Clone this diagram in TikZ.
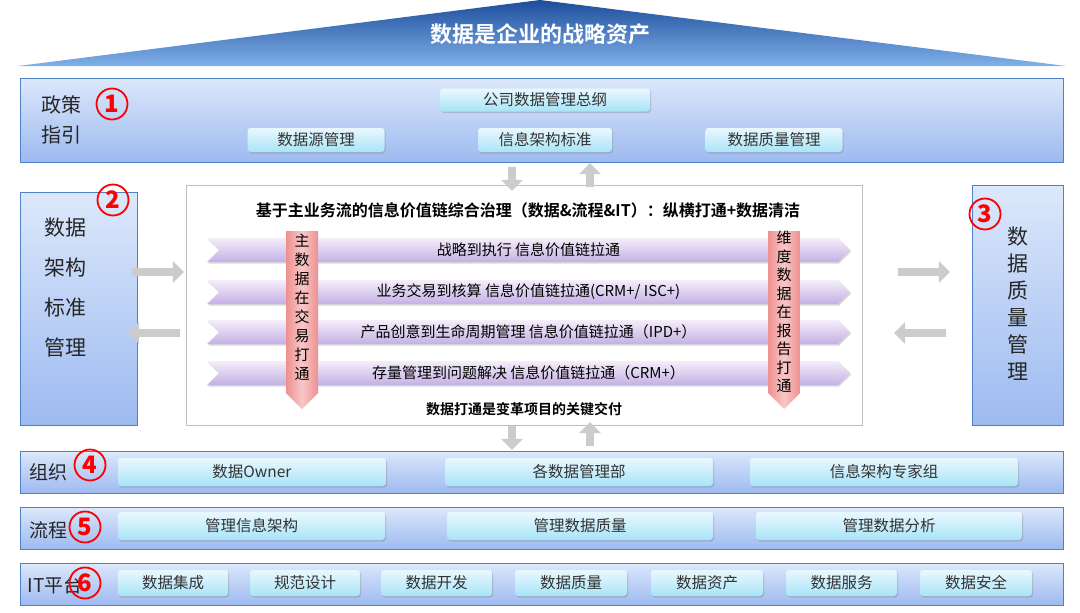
\documentclass[tikz,border=0pt]{standalone}
\usepackage{fontspec}
\setmainfont{Noto Sans CJK SC}
\newfontfamily\cjkb{Noto Sans CJK SC}[BoldFont={* Bold}]
\usetikzlibrary{shapes.arrows,shapes.symbols,shadows}
\definecolor{bandtop}{HTML}{DCE8FB}
\definecolor{bandbot}{HTML}{9DBAF0}
\definecolor{bandline}{HTML}{4F81C8}
\definecolor{btntop}{HTML}{EAF8FE}
\definecolor{btnbot}{HTML}{A8E4F8}
\definecolor{roof1}{HTML}{1E4E9C}
\definecolor{roof2}{HTML}{7FB0E8}
\definecolor{chev1}{HTML}{F4EEFA}
\definecolor{chev2}{HTML}{C4B0E4}
\definecolor{pink1}{HTML}{F8C8C8}
\definecolor{pink2}{HTML}{EE8F8F}
\tikzset{
 band/.style={draw=bandline,line width=0.8pt,top color=bandtop,bottom color=bandbot,minimum height=#1},
 btn/.style={rounded corners=3pt,top color=btntop,bottom color=btnbot,draw=none,drop shadow={opacity=0.35,shadow xshift=1pt,shadow yshift=-1.5pt},font=\fontsize{15.5}{15.5}\selectfont,text=black!80},
 lbl/.style={font=\fontsize{19}{22}\selectfont,text=black!85,align=center},
 num/.style={circle,draw=red,line width=1.8pt,minimum size=31pt,inner sep=0pt,text=red,font=\fontsize{24}{24}\selectfont\bfseries},
 garrow/.style={single arrow,fill=black!20,draw=none,minimum height=#1,minimum width=22pt,single arrow head extend=4pt,inner sep=2pt},
 chev/.style={signal,signal to=east,signal from=west,top color=chev1,bottom color=chev2,draw=none,minimum width=643pt,minimum height=24pt,inner sep=0pt,font=\fontsize{15}{15}\selectfont,drop shadow={opacity=0.3,shadow xshift=1pt,shadow yshift=-1.5pt}},
 vbar/.style={single arrow,shape border rotate=270,left color=pink2,right color=pink2,middle color=pink1,draw=none,minimum height=178pt,minimum width=32pt,single arrow head extend=0pt,single arrow tip angle=90,inner sep=0pt},
}
\begin{document}
\begin{tikzpicture}[x=1pt,y=-1pt]
\useasboundingbox (0,0) rectangle (1080,613);
% roof
\path[top color=roof1,bottom color=roof2,draw=none] (18,66) -- (540,0) -- (1066,66) -- cycle;
\node[text=white,font=\cjkb\bfseries\fontsize{22}{22}\selectfont] (roof) at (540,34) {数据是企业的战略资产};
% policy band
\node[band=84pt,minimum width=1043pt,inner sep=0pt] (pol) at (541.5,120) {};
\node[lbl,anchor=west,font=\fontsize{20}{30}\selectfont] (pollbl) at (38,120) {政策\\指引};
\node[num] (n1) at (112,104) {1};
\node[btn,minimum width=210pt,minimum height=23pt] (b1) at (545,100) {公司数据管理总纲};
\node[btn,minimum width=137pt,minimum height=24pt] (b2) at (316,140) {数据源管理};
\node[btn,minimum width=134pt,minimum height=24pt] (b3) at (545,140) {信息架构标准};
\node[btn,minimum width=137pt,minimum height=24pt] (b4) at (774,140) {数据质量管理};
% left/right boxes
\node[band=233pt,minimum width=117pt,inner sep=0pt] (lb) at (78.5,308.5) {};
\node[lbl,font=\fontsize{21}{40}\selectfont] (lbt) at (65,288) {数据\\架构\\标准\\管理};
\node[num] (n2) at (113,200) {2};
\node[band=240pt,minimum width=91pt,inner sep=0pt] (rb) at (1017.5,305) {};
\node[lbl,font=\fontsize{21}{27}\selectfont] (rbt) at (1018,304) {数\\据\\质\\量\\管\\理};
\node[num] (n3) at (985,214) {3};
% center box
\node[draw=black!25,fill=white,minimum width=676pt,minimum height=240pt,inner sep=0pt] (cb) at (524,305) {};
\node[font=\cjkb\bfseries\fontsize{16}{16}\selectfont] (ct) at (528,210) {基于主业务流的信息价值链综合治理（数据\&流程\&IT）：纵横打通+数据清洁};
\node[chev] (c1) at (528.5,250) {战略到执行 信息价值链拉通};
\node[chev] (c2) at (528.5,292) {业务交易到核算 信息价值链拉通(\textit{CRM+/ ISC+})};
\node[chev] (c3) at (528.5,332) {产品创意到生命周期管理 信息价值链拉通（\textit{IPD+}）};
\node[chev] (c4) at (528.5,373) {存量管理到问题解决 信息价值链拉通（\textit{CRM+}）};
\node[vbar] (v1) at (302,312) {};
\node[font=\fontsize{15}{19}\selectfont,align=center] (v1t) at (302,307) {主\\数\\据\\在\\交\\易\\打\\通};
\node[vbar] (v2) at (784,312) {};
\node[font=\fontsize{15}{18.5}\selectfont,align=center] (v2t) at (784,312) {维\\度\\数\\据\\在\\报\\告\\打\\通};
\node[font=\cjkb\bfseries\fontsize{14}{14}\selectfont] (cbt) at (524,409) {数据打通是变革项目的关键交付};
% gray arrows
\node[garrow=24pt,rotate=-90] (ga1) at (512,177) {};
\node[garrow=24pt,rotate=90] (ga2) at (590,177) {};
\node[garrow=24pt,rotate=-90] (ga3) at (512,436) {};
\node[garrow=24pt,rotate=90] (ga4) at (590,436) {};
\node[garrow=52pt] (ga5) at (156,272) {};
\node[garrow=52pt,rotate=180] (ga6) at (156,333) {};
\node[garrow=52pt] (ga7) at (922,272) {};
\node[garrow=52pt,rotate=180] (ga8) at (922,333) {};
% org band
\node[band=42pt,minimum width=1043pt,inner sep=0pt] (org) at (541.5,472) {};
\node[lbl,anchor=west] (orgl) at (26,472) {组织};
\node[num] (n4) at (90,465) {4};
\node[btn,minimum width=268pt,minimum height=28pt] (o1) at (252,472) {数据\textit{Owner}};
\node[btn,minimum width=268pt,minimum height=28pt] (o2) at (579,472) {各数据管理部};
\node[btn,minimum width=268pt,minimum height=28pt] (o3) at (884,472) {信息架构专家组};
% process band
\node[band=42pt,minimum width=1043pt,inner sep=0pt] (proc) at (541.5,528) {};
\node[lbl,anchor=west] (procl) at (26,530) {流程};
\node[num] (n5) at (85,527) {5};
\node[btn,minimum width=267pt,minimum height=28pt] (p1) at (251.5,526) {管理信息架构};
\node[btn,minimum width=266pt,minimum height=28pt] (p2) at (580,526) {管理数据质量};
\node[btn,minimum width=266pt,minimum height=28pt] (p3) at (889,526) {管理数据分析};
% IT band
\node[band=42pt,minimum width=1043pt,inner sep=0pt] (it) at (541.5,584) {};
\node[lbl,anchor=west] (itl) at (24,585) {\textit{IT}平台};
\node[num] (n6) at (85,583) {6};
\node[btn,minimum width=110pt,minimum height=26pt] (i1) at (173,583) {数据集成};
\node[btn,minimum width=110pt,minimum height=26pt] (i2) at (305,583) {规范设计};
\node[btn,minimum width=111pt,minimum height=26pt] (i3) at (436.5,583) {数据开发};
\node[btn,minimum width=112pt,minimum height=26pt] (i4) at (571,583) {数据质量};
\node[btn,minimum width=112pt,minimum height=26pt] (i5) at (707,583) {数据资产};
\node[btn,minimum width=111pt,minimum height=26pt] (i6) at (841.5,583) {数据服务};
\node[btn,minimum width=112pt,minimum height=26pt] (i7) at (976,583) {数据安全};
\end{tikzpicture}
\end{document}
